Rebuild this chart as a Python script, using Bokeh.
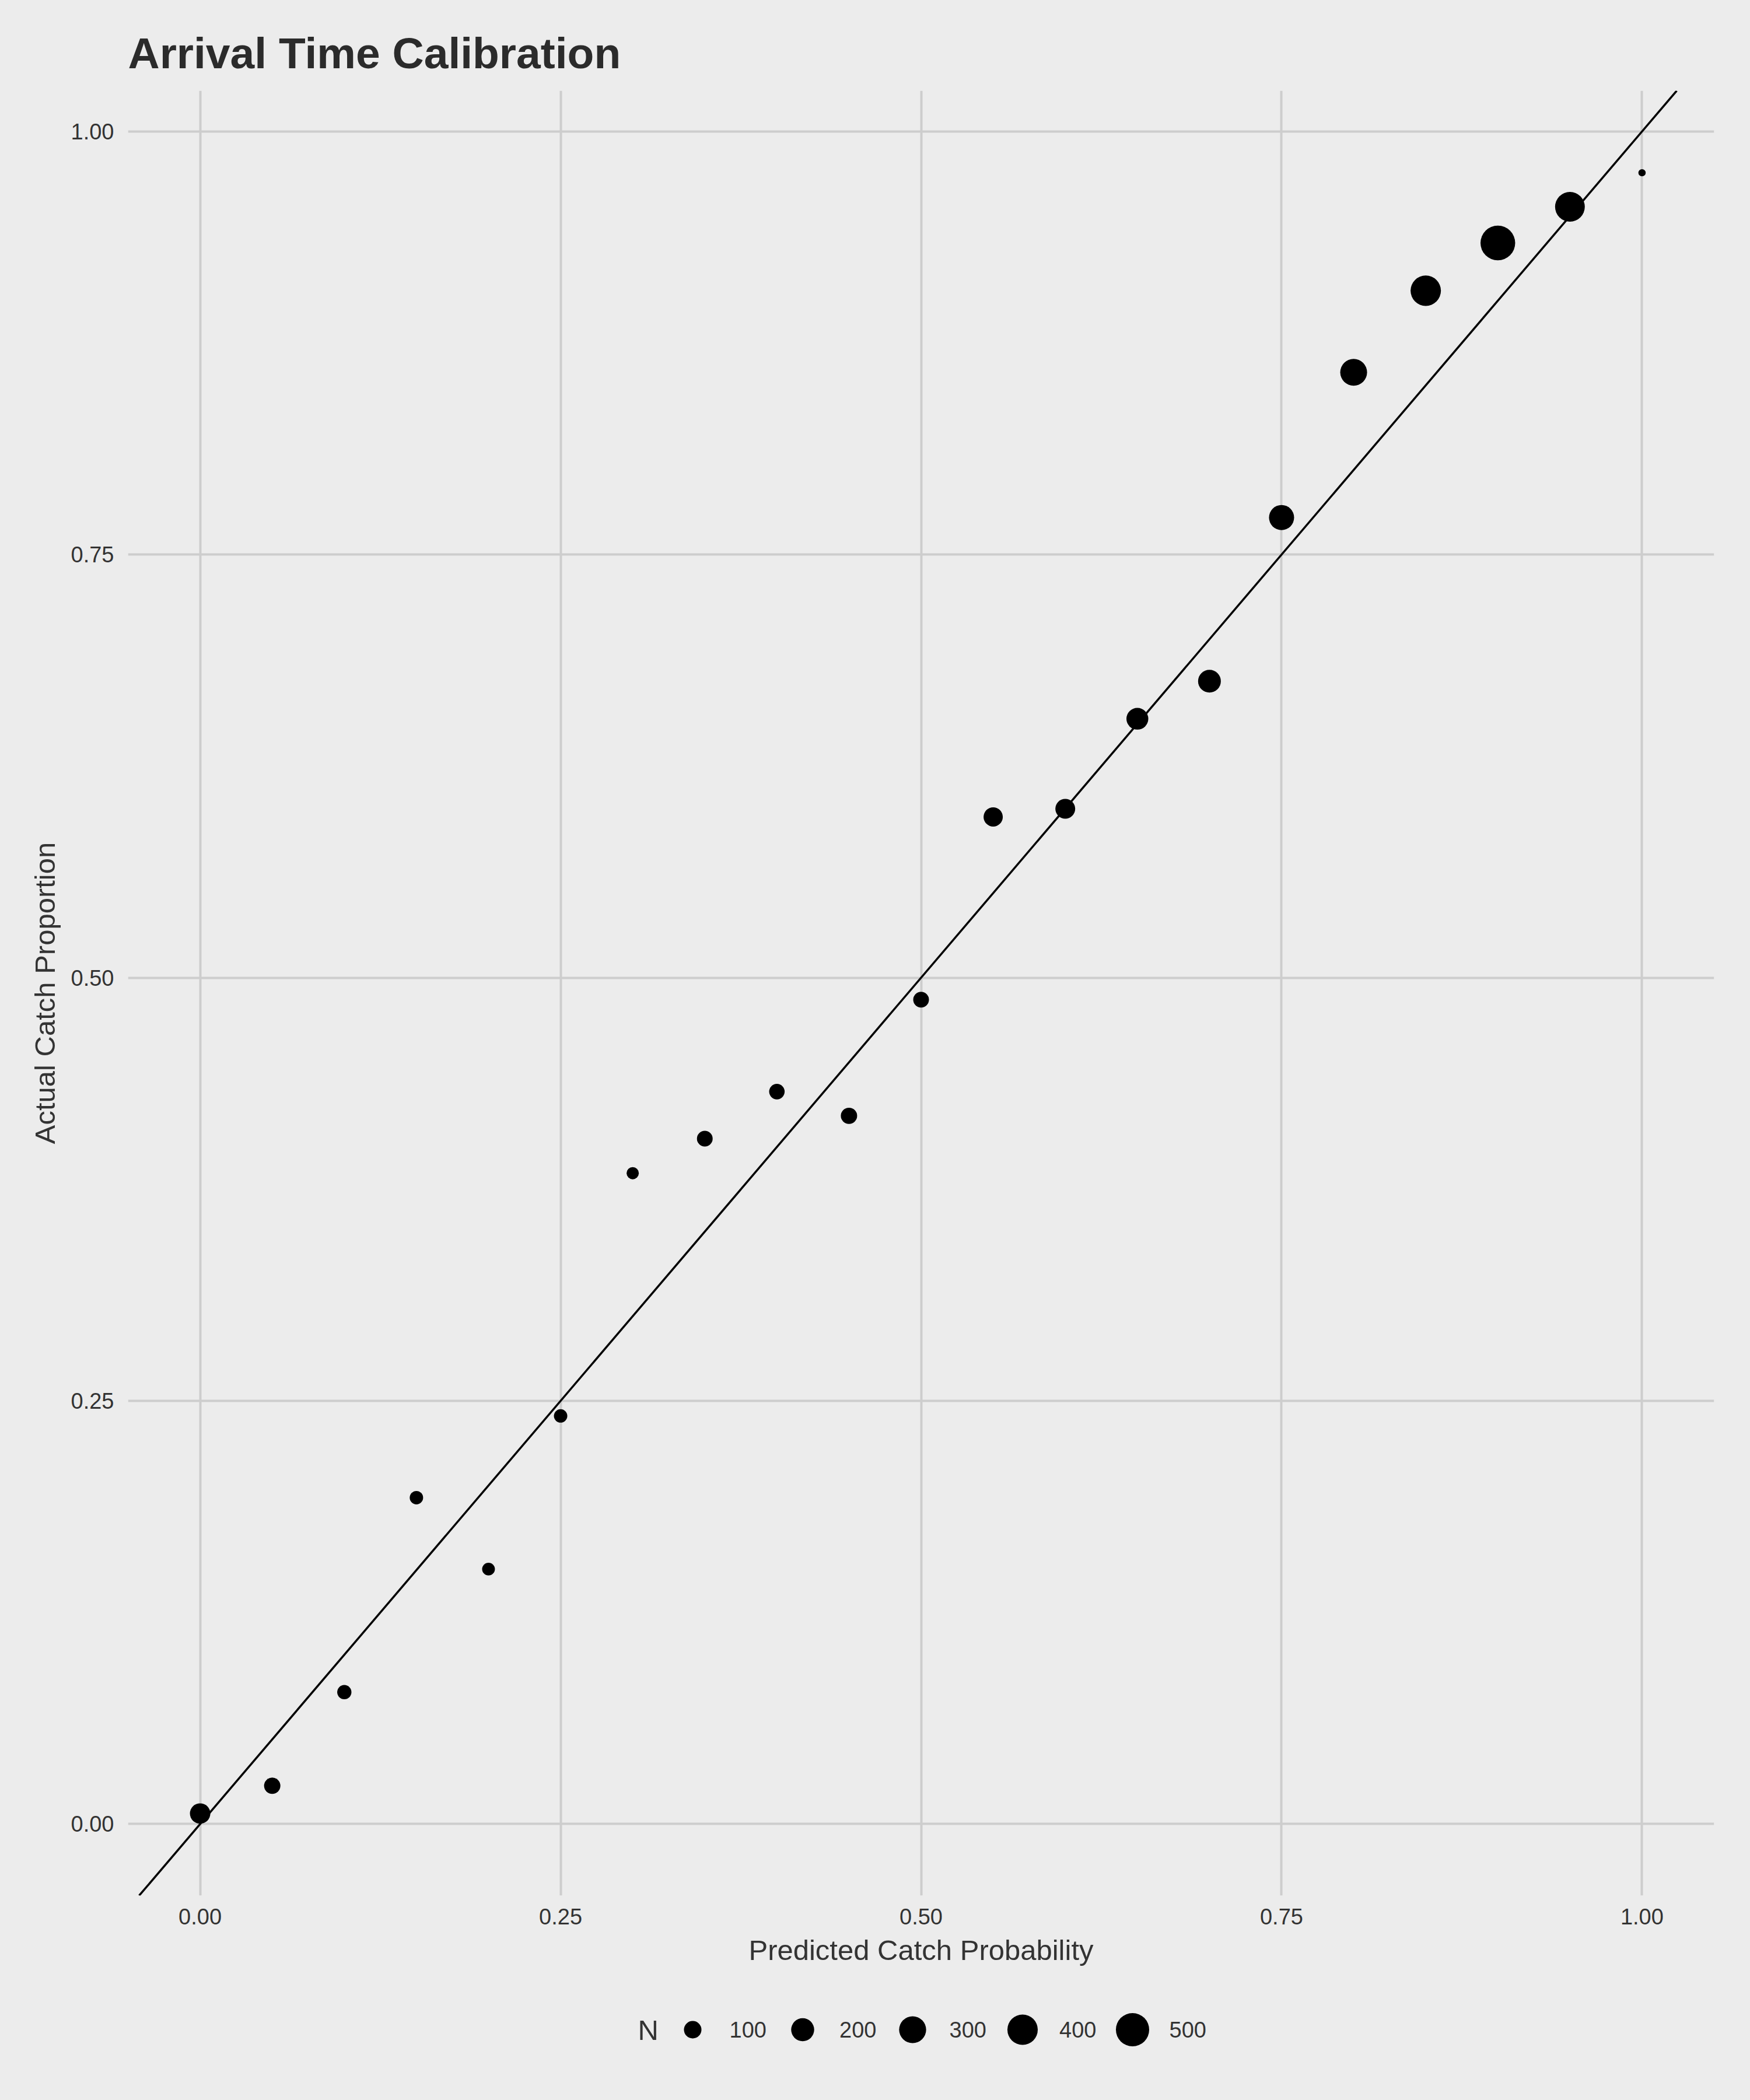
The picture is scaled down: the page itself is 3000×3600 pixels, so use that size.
import numpy as np
from bokeh.plotting import figure
from bokeh.models import Range1d, FixedTicker, NumeralTickFormatter, Slope, ColumnDataSource
from bokeh.layouts import column
from bokeh.embed import file_html
from bokeh.resources import INLINE
from bokeh.core.properties import value

# ---------------- data ----------------
predicted = [0.00, 0.05, 0.10, 0.15, 0.20, 0.25, 0.30, 0.35, 0.40, 0.45, 0.50,
             0.55, 0.60, 0.65, 0.70, 0.75, 0.80, 0.85, 0.90, 0.95, 1.00]
actual = [0.0062, 0.0226, 0.0779, 0.1928, 0.1506, 0.2411, 0.3845, 0.4049, 0.4327, 0.4184, 0.4870,
          0.5950, 0.5998, 0.6530, 0.6752, 0.7719, 0.8577, 0.9059, 0.9341, 0.9555, 0.9756]
n_obs = [148, 84, 61, 53, 48, 53, 44, 77, 74, 84, 77,
         127, 137, 176, 195, 249, 295, 400, 553, 380, 27]
legend_n = [100, 200, 300, 400, 500]
x_ticks = [0.0, 0.25, 0.5, 0.75, 1.0]
y_ticks = [0.0, 0.25, 0.5, 0.75, 1.0]

TITLE = "Arrival Time Calibration"
X_LABEL = "Predicted Catch Probability"
Y_LABEL = "Actual Catch Proportion"
LEGEND_TITLE = "N"

# ---------------- style ----------------
BG = "#ECECEC"
GRID = "#CDCDCD"
TEXT = "#333333"
FONT = "Liberation Sans"
W = 3000
MAIN_H = 3400
LEG_H = 200
FRAME_L, FRAME_R = 219, 2938
FRAME_T, FRAME_B = 155, 3249

N_MIN, N_MAX = min(n_obs), max(n_obs)


def diameter(n):
    n = np.asarray(n, dtype=float)
    s = 1 + 5 * np.sqrt(np.clip((n - N_MIN) / (N_MAX - N_MIN), 0, None))
    return 3.3 * (2.845 * s + 0.945)


def expand(vals, frac=0.05):
    lo, hi = min(vals), max(vals)
    d = (hi - lo) * frac
    return lo - d, hi + d


src = ColumnDataSource(dict(x=predicted, y=actual, n=n_obs, size=diameter(n_obs)))

xr = Range1d(*expand(predicted))
yr = Range1d(*expand(actual))

p = figure(width=W, height=MAIN_H, x_range=xr, y_range=yr,
           output_backend="svg", toolbar_location=None,
           min_border_left=FRAME_L, min_border_right=W - FRAME_R,
           min_border_top=FRAME_T, min_border_bottom=MAIN_H - FRAME_B)

p.background_fill_color = BG
p.border_fill_color = BG
p.outline_line_color = None

p.title.text = TITLE
p.title.text_font = FONT
p.title.text_font_size = "75px"
p.title.text_font_style = "bold"
p.title.text_color = "#2B2B2B"
p.title.align = "left"
p.title.standoff = 45

for g in (p.xgrid, p.ygrid):
    g.grid_line_color = GRID
    g.grid_line_width = 4
p.xgrid.ticker = FixedTicker(ticks=x_ticks)
p.ygrid.ticker = FixedTicker(ticks=y_ticks)

p.xaxis.ticker = FixedTicker(ticks=x_ticks)
p.yaxis.ticker = FixedTicker(ticks=y_ticks)
for ax in (p.xaxis[0], p.yaxis[0]):
    ax.formatter = NumeralTickFormatter(format="0.00")
    ax.axis_line_color = None
    ax.major_tick_line_color = None
    ax.minor_tick_line_color = None
    ax.major_tick_in = 0
    ax.major_tick_out = 0
    ax.minor_tick_in = 0
    ax.minor_tick_out = 0
    ax.major_label_text_font = FONT
    ax.major_label_text_font_size = "38px"
    ax.major_label_text_color = TEXT
    ax.axis_label_text_font = FONT
    ax.axis_label_text_font_size = "49px"
    ax.axis_label_text_font_style = "normal"
    ax.axis_label_text_color = TEXT

p.xaxis.axis_label = X_LABEL
p.yaxis.axis_label = Y_LABEL
p.xaxis.major_label_standoff = 22
p.yaxis.major_label_standoff = 24
p.xaxis.axis_label_standoff = 14
p.yaxis.axis_label_standoff = 15

p.add_layout(Slope(gradient=1, y_intercept=0, line_color="black", line_width=3.5))
p.scatter("x", "y", size="size", source=src, color="black", line_color=None)

# ---------------- legend (separate strip; its frame is aligned with the main frame) ----------------
lg = figure(width=W, height=LEG_H, x_range=Range1d(FRAME_L, FRAME_R), y_range=Range1d(0, LEG_H),
            output_backend="svg", toolbar_location=None,
            min_border_left=FRAME_L, min_border_right=W - FRAME_R,
            min_border_top=0, min_border_bottom=0)
lg.background_fill_color = BG
lg.border_fill_color = BG
lg.outline_line_color = None
lg.axis.visible = False
lg.grid.visible = False

key_y = LEG_H - 79
first_key = 1187
step = 188.5
key_x = [first_key + i * step for i in range(len(legend_n))]
lg.scatter(key_x, [key_y] * len(legend_n), size=diameter(legend_n), color="black", line_color=None)
lg.text([kx + 63 for kx in key_x], [key_y] * len(legend_n), text=[str(v) for v in legend_n],
        text_font=value(FONT), text_font_size="38px", text_color=TEXT,
        text_align="left", text_baseline="middle")
lg.text([1093], [key_y], text=[LEGEND_TITLE], text_font=value(FONT), text_font_size="49px",
        text_color=TEXT, text_align="left", text_baseline="middle")

layout = column(p, lg, spacing=0)
layout.background = BG

open("out.html", "w").write(file_html(layout, INLINE))
